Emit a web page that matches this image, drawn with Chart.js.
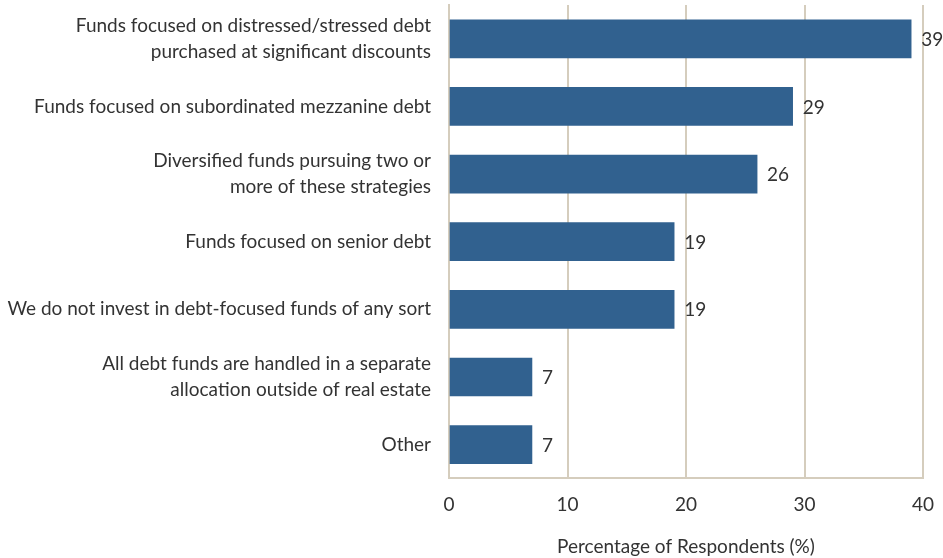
<!DOCTYPE html>
<html>
<head>
<meta charset="utf-8">
<script src="https://cdn.jsdelivr.net/npm/chart.js@4"></script>
<style>
	html, body { margin: 0; padding: 0; background: #fff; }
	#wrap { width: 943px; height: 558px; position: relative; }
</style>
</head>
<body>
<div id="wrap"><canvas id="myChart"></canvas></div>
<script>
// Datos
const categories = [
	['Funds focused on distressed/stressed debt', 'purchased at significant discounts'],
	'Funds focused on subordinated mezzanine debt',
	['Diversified funds pursuing two or', 'more of these strategies'],
	'Funds focused on senior debt',
	'We do not invest in debt-focused funds of any sort',
	['All debt funds are handled in a separate', 'allocation outside of real estate'],
	'Other',
];
const values = [39, 29, 26, 19, 19, 7, 7];
const xTicks = [0, 10, 20, 30, 40];

const FONT = 'Lato, "Open Sans", sans-serif';
const GRID = '#d5cdbd';

// Etiquetas de valor al final de cada barra
const valueLabels = {
	id: 'valueLabels',
	afterDatasetsDraw(chart) {
		const ctx = chart.ctx;
		const meta = chart.getDatasetMeta(0);
		ctx.save();
		ctx.font = '19px ' + FONT;
		ctx.fillStyle = '#333';
		ctx.textAlign = 'left';
		ctx.textBaseline = 'middle';
		meta.data.forEach((bar, i) => {
			ctx.fillText(String(values[i]), bar.x + 10, bar.y + 1);
		});
		ctx.restore();
	},
};

const ctx = document.getElementById('myChart').getContext('2d');
new Chart(ctx, {
	type: 'bar',
	data: {
		labels: categories,
		datasets: [
			{
				data: values,
				backgroundColor: '#31618f',
				borderWidth: 0,
				barThickness: 38,
			},
		],
	},
	options: {
		indexAxis: 'y',
		responsive: true,
		maintainAspectRatio: false,
		animation: false,
		layout: { padding: { top: 5, right: 20, left: 0, bottom: 0 } },
		scales: {
			x: {
				min: 0,
				max: 40,
				afterBuildTicks: (scale) => {
					scale.ticks = xTicks.map((v) => ({ value: v }));
				},
				afterFit: (scale) => {
					scale.paddingLeft = 0;
					scale.paddingRight = 0;
				},
				grid: { color: GRID, lineWidth: 2, drawTicks: false },
				border: { color: GRID, width: 2 },
				ticks: {
					color: '#333',
					font: { family: FONT, size: 19 },
					padding: 15,
				},
				title: {
					display: true,
					text: 'Percentage of Respondents (%)',
					color: '#333',
					font: { family: FONT, size: 19 },
					padding: { top: 4, bottom: 0 },
				},
			},
			y: {
				grid: { display: false, drawTicks: false },
				border: { color: GRID, width: 2 },
				ticks: {
					color: '#333',
					font: { family: FONT, size: 19, lineHeight: 1.37 },
					padding: 18,
				},
				afterFit: (scale) => {
					scale.width = 449;
					scale.paddingTop = 0;
					scale.paddingBottom = 0;
				},
			},
		},
		plugins: {
			legend: { display: false },
			tooltip: { enabled: false },
		},
	},
	plugins: [valueLabels],
});
</script>
</body>
</html>
